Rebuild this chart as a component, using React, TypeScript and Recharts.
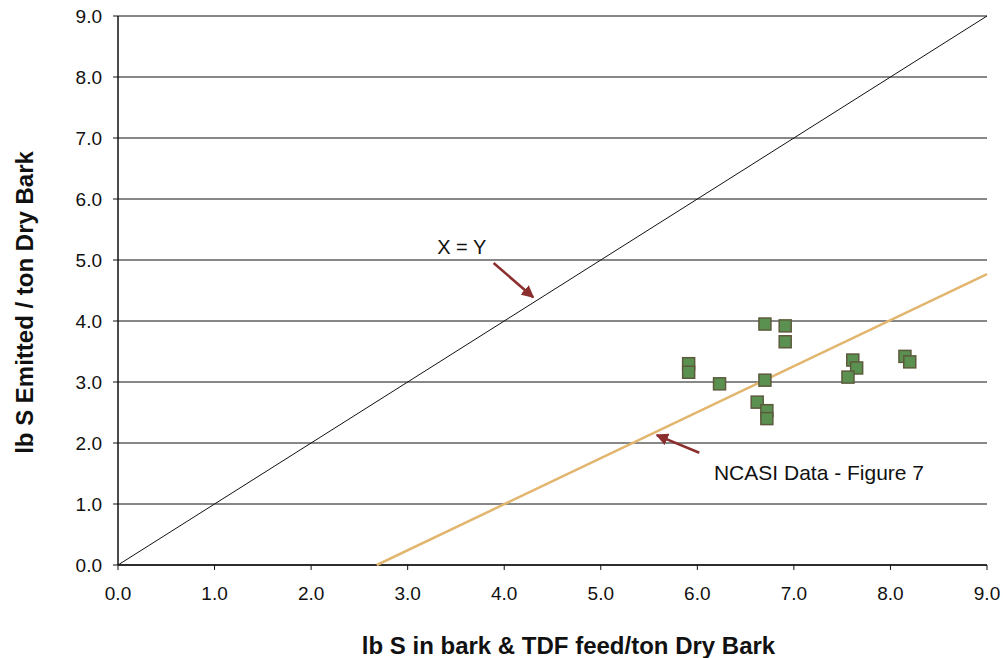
import React from 'react';
import {
  ScatterChart,
  Scatter,
  XAxis,
  YAxis,
  CartesianGrid,
  ReferenceLine,
  ReferenceDot,
} from 'recharts';

// axis ticks (both axes run 0.0 - 9.0)
const xTicks = [0, 1, 2, 3, 4, 5, 6, 7, 8, 9];
const yTicks = [0, 1, 2, 3, 4, 5, 6, 7, 8, 9];

// measured points: lb S in feed vs lb S emitted
const feedS = [5.91, 5.91, 6.23, 6.7, 6.91, 6.91, 6.7, 6.62, 6.72, 6.72, 7.61, 7.65, 7.56, 8.15, 8.2];
const emittedS = [3.3, 3.16, 2.97, 3.95, 3.92, 3.66, 3.03, 2.67, 2.53, 2.4, 3.36, 3.23, 3.08, 3.42, 3.33];

// X = Y reference line
const identityX = [0, 9];
const identityY = [0, 9];

// NCASI regression line (Figure 7)
const ncasiX = [2.68, 9];
const ncasiY = [0, 4.77];

const points = feedS.map((x, i) => ({ x, y: emittedS[i] }));
const identity = identityX.map((x, i) => ({ x, y: identityY[i] }));
const ncasi = ncasiX.map((x, i) => ({ x, y: ncasiY[i] }));

const FONT = '"Liberation Sans", Arial, sans-serif';
const ARROW = '#8b2e2e';

const SquareDot = (props: any) => {
  const { cx, cy } = props;
  if (cx == null || cy == null) return <g />;
  return (
    <rect x={cx - 6} y={cy - 6} width={12} height={12} fill="#5a9150" stroke="#5d5a3c" strokeWidth={1.5} />
  );
};

const NoDot = () => <g />;

const YTitle = (props: any) => {
  const vb = props.viewBox;
  const x = 24;
  const y = vb.y + vb.height / 2 + 12;
  return (
    <text x={x} y={y} transform={`rotate(-90, ${x}, ${y})`} textAnchor="middle" dominantBaseline="central"
      fontSize={24} fontWeight="bold" fill="#111" fontFamily={FONT}>
      lb S Emitted / ton Dry Bark
    </text>
  );
};

const XTitle = (props: any) => {
  const vb = props.viewBox;
  const x = vb.x + vb.width / 2 + 16;
  return (
    <text x={x} y={645} textAnchor="middle" dominantBaseline="central"
      fontSize={24} fontWeight="bold" fill="#111" fontFamily={FONT}>
      lb S in bark &amp; TDF feed/ton Dry Bark
    </text>
  );
};

export default function App() {
  return (
    <div style={{ position: 'absolute', left: 0, top: 0, width: 1005, height: 658, background: '#fff', fontFamily: FONT }}>
      <ScatterChart width={1005} height={658} margin={{ top: 16, right: 18, bottom: 0, left: 0 }}>
        <defs>
          <marker id="arrowHead" viewBox="0 0 10 10" refX="9" refY="5" markerWidth="5" markerHeight="5" orient="auto">
            <path d="M0,0 L10,5 L0,10 z" fill={ARROW} />
          </marker>
        </defs>
        <CartesianGrid vertical={false} stroke="#111" strokeWidth={1} />
        <XAxis
          type="number"
          dataKey="x"
          domain={[0, 9]}
          ticks={xTicks}
          tickFormatter={(v: number) => v.toFixed(1)}
          axisLine={{ stroke: '#111', strokeWidth: 1.5 }}
          tickLine={{ stroke: '#111' }}
          tickSize={5}
          tickMargin={17}
          height={93}
          tick={{ fill: '#111', fontSize: 19 }}
          label={<XTitle />}
        />
        <YAxis
          type="number"
          dataKey="y"
          domain={[0, 9]}
          ticks={yTicks}
          tickFormatter={(v: number) => v.toFixed(1)}
          axisLine={{ stroke: '#111', strokeWidth: 1.5 }}
          tickLine={{ stroke: '#111' }}
          tickSize={5}
          tickMargin={11}
          width={118}
          tick={{ fill: '#111', fontSize: 19 }}
          label={<YTitle />}
        />
        <Scatter data={identity} line={{ stroke: '#111', strokeWidth: 1 }} shape={NoDot} isAnimationActive={false} />
        <Scatter data={ncasi} line={{ stroke: '#e2b66f', strokeWidth: 2.5 }} shape={NoDot} isAnimationActive={false} />
        <Scatter data={points} shape={SquareDot} isAnimationActive={false} />

        <ReferenceLine segment={[{ x: 3.89, y: 4.95 }, { x: 4.3, y: 4.39 }]} stroke={ARROW} strokeWidth={2.5} markerEnd="url(#arrowHead)" />
        <ReferenceLine segment={[{ x: 6.02, y: 1.84 }, { x: 5.58, y: 2.13 }]} stroke={ARROW} strokeWidth={2.5} markerEnd="url(#arrowHead)" />
        <ReferenceDot x={3.56} y={5.21} r={0} fill="none" stroke="none"
          label={{ value: 'X = Y', position: 'center', fontSize: 20, fill: '#111' }} />
        <ReferenceDot x={7.26} y={1.52} r={0} fill="none" stroke="none"
          label={{ value: 'NCASI Data - Figure 7', position: 'center', fontSize: 21, fill: '#111' }} />
      </ScatterChart>
    </div>
  );
}
